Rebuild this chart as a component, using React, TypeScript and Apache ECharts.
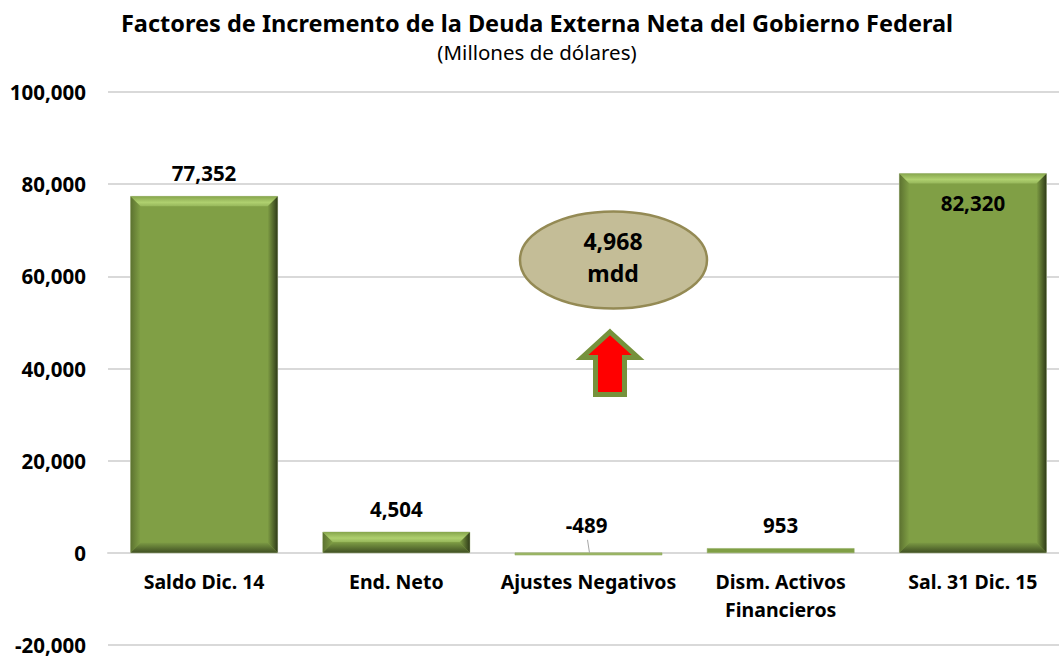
import React, { useEffect, useRef } from "react";
import * as echarts from "echarts";

const titleText = "Factores de Incremento de la Deuda Externa Neta del Gobierno Federal";
const subtitleText = "(Millones de dólares)";
const categories = ["Saldo Dic. 14", "End. Neto", "Ajustes Negativos", "Dism. Activos\nFinancieros", "Sal. 31 Dic. 15"];
const values = [77352, 4504, -489, 953, 82320];
const labels = ["77,352", "4,504", "-489", "953", "82,320"];
const bubbleText = "4,968\nmdd";

const FONT = "Noto Sans";
const grad = (x: number, y: number, x2: number, y2: number, a: string, b: string, mid?: string) =>
  new echarts.graphic.LinearGradient(x, y, x2, y2, mid
    ? [{ offset: 0, color: a }, { offset: 0.6, color: mid }, { offset: 1, color: b }]
    : [{ offset: 0, color: a }, { offset: 1, color: b }]);

function renderBar(params: any, api: any) {
  const idx = api.value(0);
  const val = api.value(1);
  const c = api.coord([idx, val]);
  const z = api.coord([idx, 0]);
  const w = api.size([1, 0])[0] * 0.765;
  const l = c[0] - w / 2, r = c[0] + w / 2;
  const t = Math.min(c[1], z[1]), b = Math.max(c[1], z[1]);
  const h = b - t;
  const children: any[] = [];
  const main = "#809F45";
  if (h < 8) {
    children.push({ type: "rect", shape: { x: l, y: t, width: w, height: h }, style: { fill: val < 0 ? "#9DB868" : main, stroke: "#8CA85A", lineWidth: 0.5 } });
  } else {
    const d = Math.min(10, h / 2);
    children.push(
      { type: "rect", shape: { x: l, y: t, width: w, height: h }, style: { fill: main, stroke: "#C9D3B4", lineWidth: 1 } },
      { type: "polygon", shape: { points: [[l, t], [l + d, t + d], [l + d, b - d], [l, b]] }, style: { fill: grad(0, 0, 1, 0, "#5C7230", main) } },
      { type: "polygon", shape: { points: [[r, t], [r - d, t + d], [r - d, b - d], [r, b]] }, style: { fill: grad(0, 0, 1, 0, main, "#2F3B18") } },
      { type: "polygon", shape: { points: [[l, t], [r, t], [r - d, t + d], [l + d, t + d]] }, style: { fill: grad(0, 0, 0, 1, "#87A64D", "#96B65A", "#AFD06F") } },
      { type: "polygon", shape: { points: [[l, b], [r, b], [r - d, b - d], [l + d, b - d]] }, style: { fill: grad(0, 1, 0, 0, "#3F4F22", "#7A9843") } }
    );
  }
  let ly = t - 23, lx = c[0];
  if (idx === 4) ly = t + 30;
  if (val < 0) {
    ly = z[1] - 28;
    lx = c[0] - 2;
    children.push({ type: "line", shape: { x1: c[0] - 1, y1: z[1] - 13, x2: c[0] + 1, y2: z[1] }, style: { stroke: "#A6A6A6", lineWidth: 1 } });
  }
  children.push({
    type: "text", x: lx, y: ly,
    style: { text: labels[idx], fontFamily: FONT, fontWeight: "bold", fontSize: 20.5, fill: "#000", align: "center", verticalAlign: "middle" },
  });
  return { type: "group", children };
}

export default function App() {
  const ref = useRef<HTMLDivElement>(null);
  useEffect(() => {
    const chart = echarts.init(ref.current!, null, { renderer: "svg" });
    chart.setOption({
      animation: false,
      backgroundColor: "#fff",
      title: {
        text: titleText, subtext: subtitleText, left: 532, top: 6, textAlign: "center", itemGap: 6,
        textStyle: { fontFamily: FONT, fontWeight: "bold", fontSize: 23.5, color: "#000" },
        subtextStyle: { fontFamily: FONT, fontSize: 20.5, color: "#000" },
      },
      grid: { left: 108, right: -10, top: 92, bottom: 11, outerBoundsMode: "none" },
      xAxis: {
        type: "category", data: categories, position: "bottom", offset: -92,
        axisLine: { onZero: false, lineStyle: { color: "#D9D9D9", width: 2 } },
        axisTick: { show: false },
        axisLabel: { interval: 0, margin: 14, fontFamily: FONT, fontWeight: "bold", fontSize: 19.5, color: "#000", lineHeight: 28 },
      },
      yAxis: {
        type: "value", min: -20000, max: 100000, interval: 20000,
        axisLine: { show: false }, axisTick: { show: false },
        splitLine: { lineStyle: { color: "#D9D9D9", width: 2 } },
        axisLabel: { margin: 22, fontFamily: FONT, fontWeight: "bold", fontSize: 20.5, lineHeight: 20, color: "#000",
          formatter: (v: number) => v.toLocaleString("en-US") },
      },
      series: [{
        type: "custom", renderItem: renderBar, clip: false, z: 3,
        encode: { x: 0, y: 1 },
        data: values.map((v, i) => [i, v]),
      }],
      graphic: [
        { type: "ellipse", z: 10, shape: { cx: 613.5, cy: 260, rx: 93.5, ry: 48.5 }, style: { fill: "#C4BD97", stroke: "#948A54", lineWidth: 2.5 } },
        { type: "text", z: 11, x: 613, y: 257, style: { text: bubbleText, fontFamily: FONT, fontWeight: "bold", fontSize: 23, lineHeight: 32, fill: "#000", align: "center", verticalAlign: "middle" } },
        { type: "polygon", z: 10, shape: { points: [[610, 332], [638, 357.5], [624.5, 357.5], [624.5, 394.5], [595.5, 394.5], [595.5, 357.5], [582, 357.5]] },
          style: { fill: "#FF0000", stroke: "#76923C", lineWidth: 5, lineJoin: "miter" } },
      ],
    });
    return () => chart.dispose();
  }, []);
  return <div ref={ref} style={{ position: "absolute", left: 0, top: 0, width: 1059, height: 656 }} />;
}
